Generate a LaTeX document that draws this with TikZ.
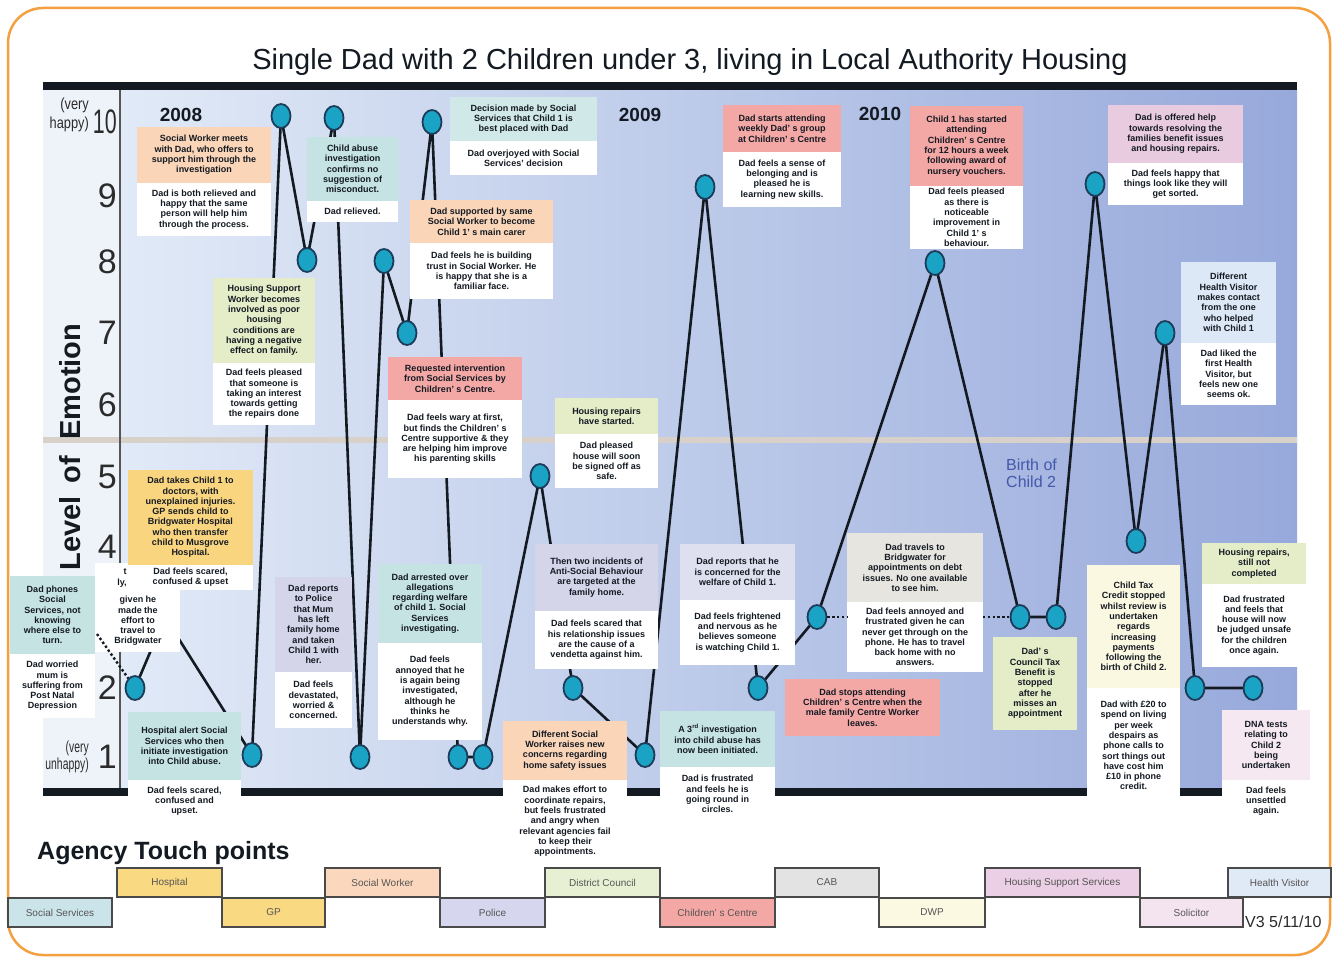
\documentclass[tikz,border=0pt]{standalone}
\usepackage{fontspec}
\setmainfont{Liberation Sans}
\usepackage{graphicx}
\usetikzlibrary{shapes.geometric}

\definecolor{ink}{HTML}{141A22}
\definecolor{frame}{HTML}{F4A040}
\definecolor{ptfill}{HTML}{1AA3C4}
\definecolor{ptedge}{HTML}{1D3C5A}
\definecolor{bgleft}{HTML}{E1EAF7}
\definecolor{bgright}{HTML}{97A9DB}
\definecolor{axisbg}{HTML}{EEF3FA}
\definecolor{axisline}{HTML}{555555}
\definecolor{band}{HTML}{D8D1CA}
\definecolor{cPeach}{HTML}{FAD5B8}
\definecolor{cTeal}{HTML}{C6E3E3}
\definecolor{cTealLt}{HTML}{D0E8E7}
\definecolor{cYellow}{HTML}{FAD57F}
\definecolor{cGreen}{HTML}{E4ECC8}
\definecolor{cSalmon}{HTML}{F4A8A6}
\definecolor{cLav}{HTML}{D5D5EA}
\definecolor{cLavLt}{HTML}{DFE0EF}
\definecolor{cGrey}{HTML}{E6E5E0}
\definecolor{cMauve}{HTML}{E9CBE0}
\definecolor{cCream}{HTML}{FBF8E2}
\definecolor{cPink}{HTML}{F5E8F1}
\definecolor{cSky}{HTML}{DDE8F6}
\definecolor{tYellow}{HTML}{F9D982}
\definecolor{tPeach}{HTML}{FBD8BD}
\definecolor{tGreen}{HTML}{E8F0D4}
\definecolor{tGrey}{HTML}{E3E3E3}
\definecolor{tMauve}{HTML}{EBCFE4}
\definecolor{tSky}{HTML}{E0E9F6}
\definecolor{tTeal}{HTML}{CBE4EA}
\definecolor{tLav}{HTML}{D6D6EE}
\definecolor{tSalmon}{HTML}{F4A8A6}
\definecolor{tCream}{HTML}{FCF9E2}
\definecolor{tPink}{HTML}{F4E4F0}
\definecolor{birth}{HTML}{4557AA}
\definecolor{tagtext}{HTML}{555555}
\definecolor{tagedge}{HTML}{4A4A4A}
\definecolor{numcol}{HTML}{2B2B2B}

\newcommand\evfont{\fontsize{9}{10.3}\selectfont\bfseries}

\tikzset{
  evhead/.style={rectangle, inner sep=1pt, outer sep=0pt, align=center, font=\evfont, text=ink},
  evfeel/.style={evhead, fill=white},
  conn/.style={draw=ink, line width=2.6pt, line join=round, line cap=round},
  dotlink/.style={draw=ink, line width=2.4pt, dash pattern=on 2.4pt off 2.4pt},
  evdot/.style={ellipse, draw=ptedge, fill=ptfill, line width=1.8pt, minimum width=19pt, minimum height=24pt, inner sep=0pt},
  agency/.style={rectangle, draw=tagedge, line width=1.4pt, minimum height=29pt, inner sep=0pt, font=\fontsize{10}{12}\selectfont, text=tagtext},
  yr/.style={font=\fontsize{19}{22}\selectfont\bfseries, text=ink},
  lvl/.style={anchor=east, font=\fontsize{34}{36}\selectfont, text=numcol, inner sep=0pt},
}

% two-part event box: name, x1, x2, top, split, bottom, colour, event text, feeling text
\newcommand\evbox[9]{%
  \node[evhead, fill=#7, minimum width={(#3-#2)*1pt}, minimum height={(#5-#4)*1pt}] (#1h) at ({(#2+#3)/2},{(#4+#5)/2}) {#8};
  \node[evfeel, minimum width={(#3-#2)*1pt}, minimum height={(#6-#5)*1pt}] (#1f) at ({(#2+#3)/2},{(#5+#6)/2}) {#9};}
% single event box: name, x1, x2, top, bottom, colour, text
\newcommand\evone[7]{%
  \node[evhead, fill=#6, minimum width={(#3-#2)*1pt}, minimum height={(#5-#4)*1pt}] (#1) at ({(#2+#3)/2},{(#4+#5)/2}) {#7};}
% agency tab: name, x1, x2, y centre, colour, text
\newcommand\agbox[6]{%
  \node[agency, fill=#5, minimum width={(#3-#2)*1pt}] (#1) at ({(#2+#3)/2},#4) {#6};}

\begin{document}
\begin{tikzpicture}[x=1pt,y=-1pt]
\useasboundingbox (0,0) rectangle (1332,958);
\fill[white] (0,0) rectangle (1332,958);

% outer frame
\draw[frame, line width=2.5pt, rounded corners=35pt] (8,8) rectangle (1330,955);

% title
\node[anchor=base, font=\fontsize{29}{32}\selectfont, text=ink] (title) at (690,70)
  {Single Dad with 2 Children under 3, living in Local Authority Housing};

% chart background
\fill[axisbg] (43,90) rectangle (120,788);
\shade[left color=bgleft, right color=bgright] (120,90) rectangle (1297,788);
\fill[band] (43,437) rectangle (1297,443);
\draw[axisline, line width=1.5pt] (120,90) -- (120,788);
\fill[ink] (43,82) rectangle (1297,90);
\fill[ink] (43,788) rectangle (1297,796);

% emotion scale
\node[rotate=90, font=\fontsize{29}{32}\selectfont\bfseries, text=ink] (ylab) at (70,447)
  {Level\hspace{0.45em}of\hspace{0.55em}Emotion};
\node[anchor=east, align=right, font=\fontsize{16}{19}\selectfont, text=numcol, inner sep=0pt] (vhappy) at (89,115)
  {\scalebox{0.8}[1]{(very}\\\scalebox{0.8}[1]{happy)}};
\node[anchor=east, align=right, font=\fontsize{16}{17}\selectfont, text=numcol, inner sep=0pt] (vunhappy) at (89,757)
  {\scalebox{0.65}[1]{(very}\\\scalebox{0.65}[1]{unhappy)}};
\node[lvl] (n10) at (117,122) {\scalebox{0.63}[1]{10}};
\node[lvl] (n9) at (117,196) {9};
\node[lvl] (n8) at (117,262) {8};
\node[lvl] (n7) at (117,333) {7};
\node[lvl] (n6) at (117,405) {6};
\node[lvl] (n5) at (117,477) {5};
\node[lvl] (n4) at (117,547) {4};
\node[lvl] (n2) at (117,688) {2};
\node[lvl] (n1) at (117,757) {1};

% years
\node[yr] (y2008) at (181,115) {2008};
\node[yr] (y2009) at (640,115) {2009};
\node[yr] (y2010) at (880,114) {2010};

% emotion points
\coordinate (p1) at (135,688);
\coordinate (h1) at (165,617);
\coordinate (p2) at (252,755);
\coordinate (p3) at (281,116);
\coordinate (p4) at (307,260);
\coordinate (p5) at (334,118);
\coordinate (p6) at (360,757);
\coordinate (p7) at (384,261);
\coordinate (p8) at (407,333);
\coordinate (p9) at (432,122);
\coordinate (p10) at (458,757);
\coordinate (p11) at (483,757);
\coordinate (p12) at (540,476);
\coordinate (p13) at (573,688);
\coordinate (p14) at (645,755);
\coordinate (p15) at (705,187);
\coordinate (p16) at (758,688);
\coordinate (p17) at (817,617);
\coordinate (p18) at (935,263);
\coordinate (p19) at (1020,617);
\coordinate (p20) at (1056,617);
\coordinate (p21) at (1095,184);
\coordinate (p22) at (1136,541);
\coordinate (p23) at (1165,333);
\coordinate (p24) at (1195,688);
\coordinate (p25) at (1253,688);

% the journey line
\draw[conn] (p1) -- (h1) -- (p2) -- (p3) -- (p4) -- (p5) -- (p6) -- (p7) -- (p8) -- (p9)
  -- (p10) -- (p11) -- (p12) -- (p13) -- (p14) -- (p15) -- (p16) -- (p17) -- (p18)
  -- (p19) -- (p20) -- (p21) -- (p22) -- (p23) -- (p24) -- (p25);

% event boxes
\node[evfeel, minimum width=85pt, minimum height=89pt] (gone) at (137.5,607.5) {};
\node[evhead] (gonet) at (138,621) {given he\\made the\\effort to\\travel to\\Bridgwater};
\node[evhead, inner sep=0pt] (gonea) at (125,572) {t};
\node[evhead, inner sep=0pt] (goneb) at (122,583) {ly,};

\evbox{b1}{137}{271}{127}{183}{236}{cPeach}{Social Worker meets\\with Dad, who offers to\\support him through the\\investigation}{Dad is both relieved and\\happy that the same\\person will help him\\through the process.}
\evbox{b2}{307}{398}{137}{201}{222}{cTeal}{Child abuse\\investigation\\confirms no\\suggestion of\\misconduct.}{Dad relieved.}
\evbox{b3}{450}{597}{97}{141}{175}{cTealLt}{Decision made by Social\\Services that Child 1 is\\best placed with Dad}{Dad overjoyed with Social\\Services’ decision}
\evbox{b4}{410}{553}{200}{243}{299}{cPeach}{Dad supported by same\\Social Worker to become\\Child 1’ s main carer}{Dad feels he is building\\trust in Social Worker. He\\is happy that she is a\\familiar face.}
\evbox{b5}{213}{315}{278}{363}{425}{cGreen}{Housing Support\\Worker becomes\\involved as poor\\housing\\conditions are\\having a negative\\effect on family.}{Dad feels pleased\\that someone is\\taking an interest\\towards getting\\the repairs done}
\evbox{b6}{388}{522}{357}{400}{478}{cSalmon}{Requested intervention\\from Social Services by\\Children’ s Centre.}{Dad feels wary at first,\\but finds the Children’ s\\Centre supportive \& they\\are helping him improve\\his parenting skills}
\evbox{b7}{723}{841}{105}{152}{207}{cSalmon}{Dad starts attending\\weekly Dad’ s group\\at Children’ s Centre}{Dad feels a sense of\\belonging and is\\pleased he is\\learning new skills.}
\evbox{b8}{910}{1023}{106}{186}{249}{cSalmon}{Child 1 has started\\attending\\Children’ s Centre\\for 12 hours a week\\following award of\\nursery vouchers.}{Dad feels pleased\\as there is\\noticeable\\improvement in\\Child 1’ s\\behaviour.}
\evbox{b9}{1108}{1243}{105}{163}{205}{cMauve}{Dad is offered help\\towards resolving the\\families benefit issues\\and housing repairs.}{Dad feels happy that\\things look like they will\\get sorted.}
\evbox{b10}{1181}{1276}{262}{343}{405}{cSky}{Different\\Health Visitor\\makes contact\\from the one\\who helped\\with Child 1}{Dad liked the\\first Health\\Visitor, but\\feels new one\\seems ok.}
\evbox{b11}{128}{253}{470}{565}{590}{cYellow}{Dad takes Child 1 to\\doctors, with\\unexplained injuries.\\GP sends child to\\Bridgwater Hospital\\who then transfer\\child to Musgrove\\Hospital.}{Dad feels scared,\\confused \& upset}
\evbox{b12}{10}{95}{576}{654}{718}{cTeal}{Dad phones\\Social\\Services, not\\knowing\\where else to\\turn.}{Dad worried\\mum is\\suffering from\\Post Natal\\Depression}
\evbox{b13}{128}{241}{712}{780}{822}{cTeal}{Hospital alert Social\\Services who then\\initiate investigation\\into Child abuse.}{Dad feels scared,\\confused and\\upset.}
\evbox{b14}{275}{352}{577}{672}{728}{cLav}{Dad reports\\to Police\\that Mum\\has left\\family home\\and taken\\Child 1 with\\her.}{Dad feels\\devastated,\\worried \&\\concerned.}
\evbox{b15}{378}{482}{564}{643}{740}{cTeal}{Dad arrested over\\allegations\\regarding welfare\\of child 1. Social\\Services\\investigating.}{Dad feels\\annoyed that he\\is again being\\investigated,\\although he\\thinks he\\understands why.}
\evbox{b16}{555}{658}{398}{434}{488}{cGreen}{Housing repairs\\have started.}{Dad pleased\\house will soon\\be signed off as\\safe.}
\evbox{b17}{535}{658}{544}{611}{669}{cLav}{Then two incidents of\\Anti-Social Behaviour\\are targeted at the\\family home.}{Dad feels scared that\\his relationship issues\\are the cause of a\\vendetta against him.}
\evbox{b18}{503}{627}{721}{780}{863}{cPeach}{Different Social\\Worker raises new\\concerns regarding\\home safety issues}{Dad makes effort to\\coordinate repairs,\\but feels frustrated\\and angry when\\relevant agencies fail\\to keep their\\appointments.}
\evbox{b19}{680}{795}{544}{600}{665}{cLavLt}{Dad reports that he\\is concerned for the\\welfare of Child 1.}{Dad feels frightened\\and nervous as he\\believes someone\\is watching Child 1.}
\evbox{b20}{660}{775}{711}{767}{821}{cTeal}{A 3\textsuperscript{rd} investigation\\into child abuse has\\now been initiated.}{Dad is frustrated\\and feels he is\\going round in\\circles.}
\evone{b21}{785}{940}{679}{736}{cSalmon}{Dad stops attending\\Children’ s Centre when the\\male family Centre Worker\\leaves.}
\evbox{b22}{847}{983}{533}{602}{672}{cGrey}{Dad travels to\\Bridgwater for\\appointments on debt\\issues. No one available\\to see him.}{Dad feels annoyed and\\frustrated given he can\\never get through on the\\phone. He has to travel\\back home with no\\answers.}
\evone{b23}{993}{1077}{637}{730}{cGreen}{Dad’ s\\Council Tax\\Benefit is\\stopped\\after he\\misses an\\appointment}
\evbox{b24}{1087}{1180}{565}{688}{803}{cCream}{Child Tax\\Credit stopped\\whilst review is\\undertaken\\regards\\increasing\\payments\\following the\\birth of Child 2.}{Dad with £20 to\\spend on living\\per week\\despairs as\\phone calls to\\sort things out\\have cost him\\£10 in phone\\credit.}
\evbox{b25}{1202}{1306}{543}{584}{667}{cGreen}{Housing repairs,\\still not\\completed}{Dad frustrated\\and feels that\\house will now\\be judged unsafe\\for the children\\once again.}
\evbox{b26}{1222}{1310}{710}{780}{822}{cPink}{DNA tests\\relating to\\Child 2\\being\\undertaken}{Dad feels\\unsettled\\again.}

% emotion markers
\foreach \i in {1,...,25} \node[evdot] (c\i) at (p\i) {};

% dotted links
\coordinate (d1) at (97,634);
\draw[dotlink] (d1) -- (c1);
\draw[dotlink] (c17) -- (c17 -| b22f.west);
\draw[dotlink] (c19 -| b22f.east) -- (c19);

% birth marker
\node[anchor=north west, align=left, font=\fontsize{16}{16.5}\selectfont, text=birth, inner sep=0pt] (birth) at (1006,459) {Birth of\\Child 2};

% agency touch points
\node[anchor=base west, font=\fontsize{25}{28}\selectfont\bfseries, text=ink, inner sep=0pt] (agt) at (37,859) {Agency Touch points};
\agbox{tHosp}{117}{222}{882.5}{tYellow}{Hospital}
\agbox{tSW}{325}{440}{882.5}{tPeach}{Social Worker}
\agbox{tDC}{545}{660}{882.5}{tGreen}{District Council}
\agbox{tCAB}{775}{879}{882.5}{tGrey}{CAB}
\agbox{tHSS}{985}{1140}{882.5}{tMauve}{Housing Support Services}
\agbox{tHV}{1228}{1331}{882.5}{tSky}{Health Visitor}
\agbox{tSS}{8}{112}{912.5}{tTeal}{Social Services}
\agbox{tGP}{222}{325}{912.5}{tYellow}{GP}
\agbox{tPol}{440}{545}{912.5}{tLav}{Police}
\agbox{tCC}{660}{775}{912.5}{tSalmon}{Children’ s Centre}
\agbox{tDWP}{879}{985}{912.5}{tCream}{DWP}
\agbox{tSol}{1140}{1243}{912.5}{tPink}{Solicitor}

\node[anchor=base west, font=\fontsize{16}{18}\selectfont, text=numcol, inner sep=0pt] (ver) at (1245,927) {V3 5/11/10};
\end{tikzpicture}
\end{document}
